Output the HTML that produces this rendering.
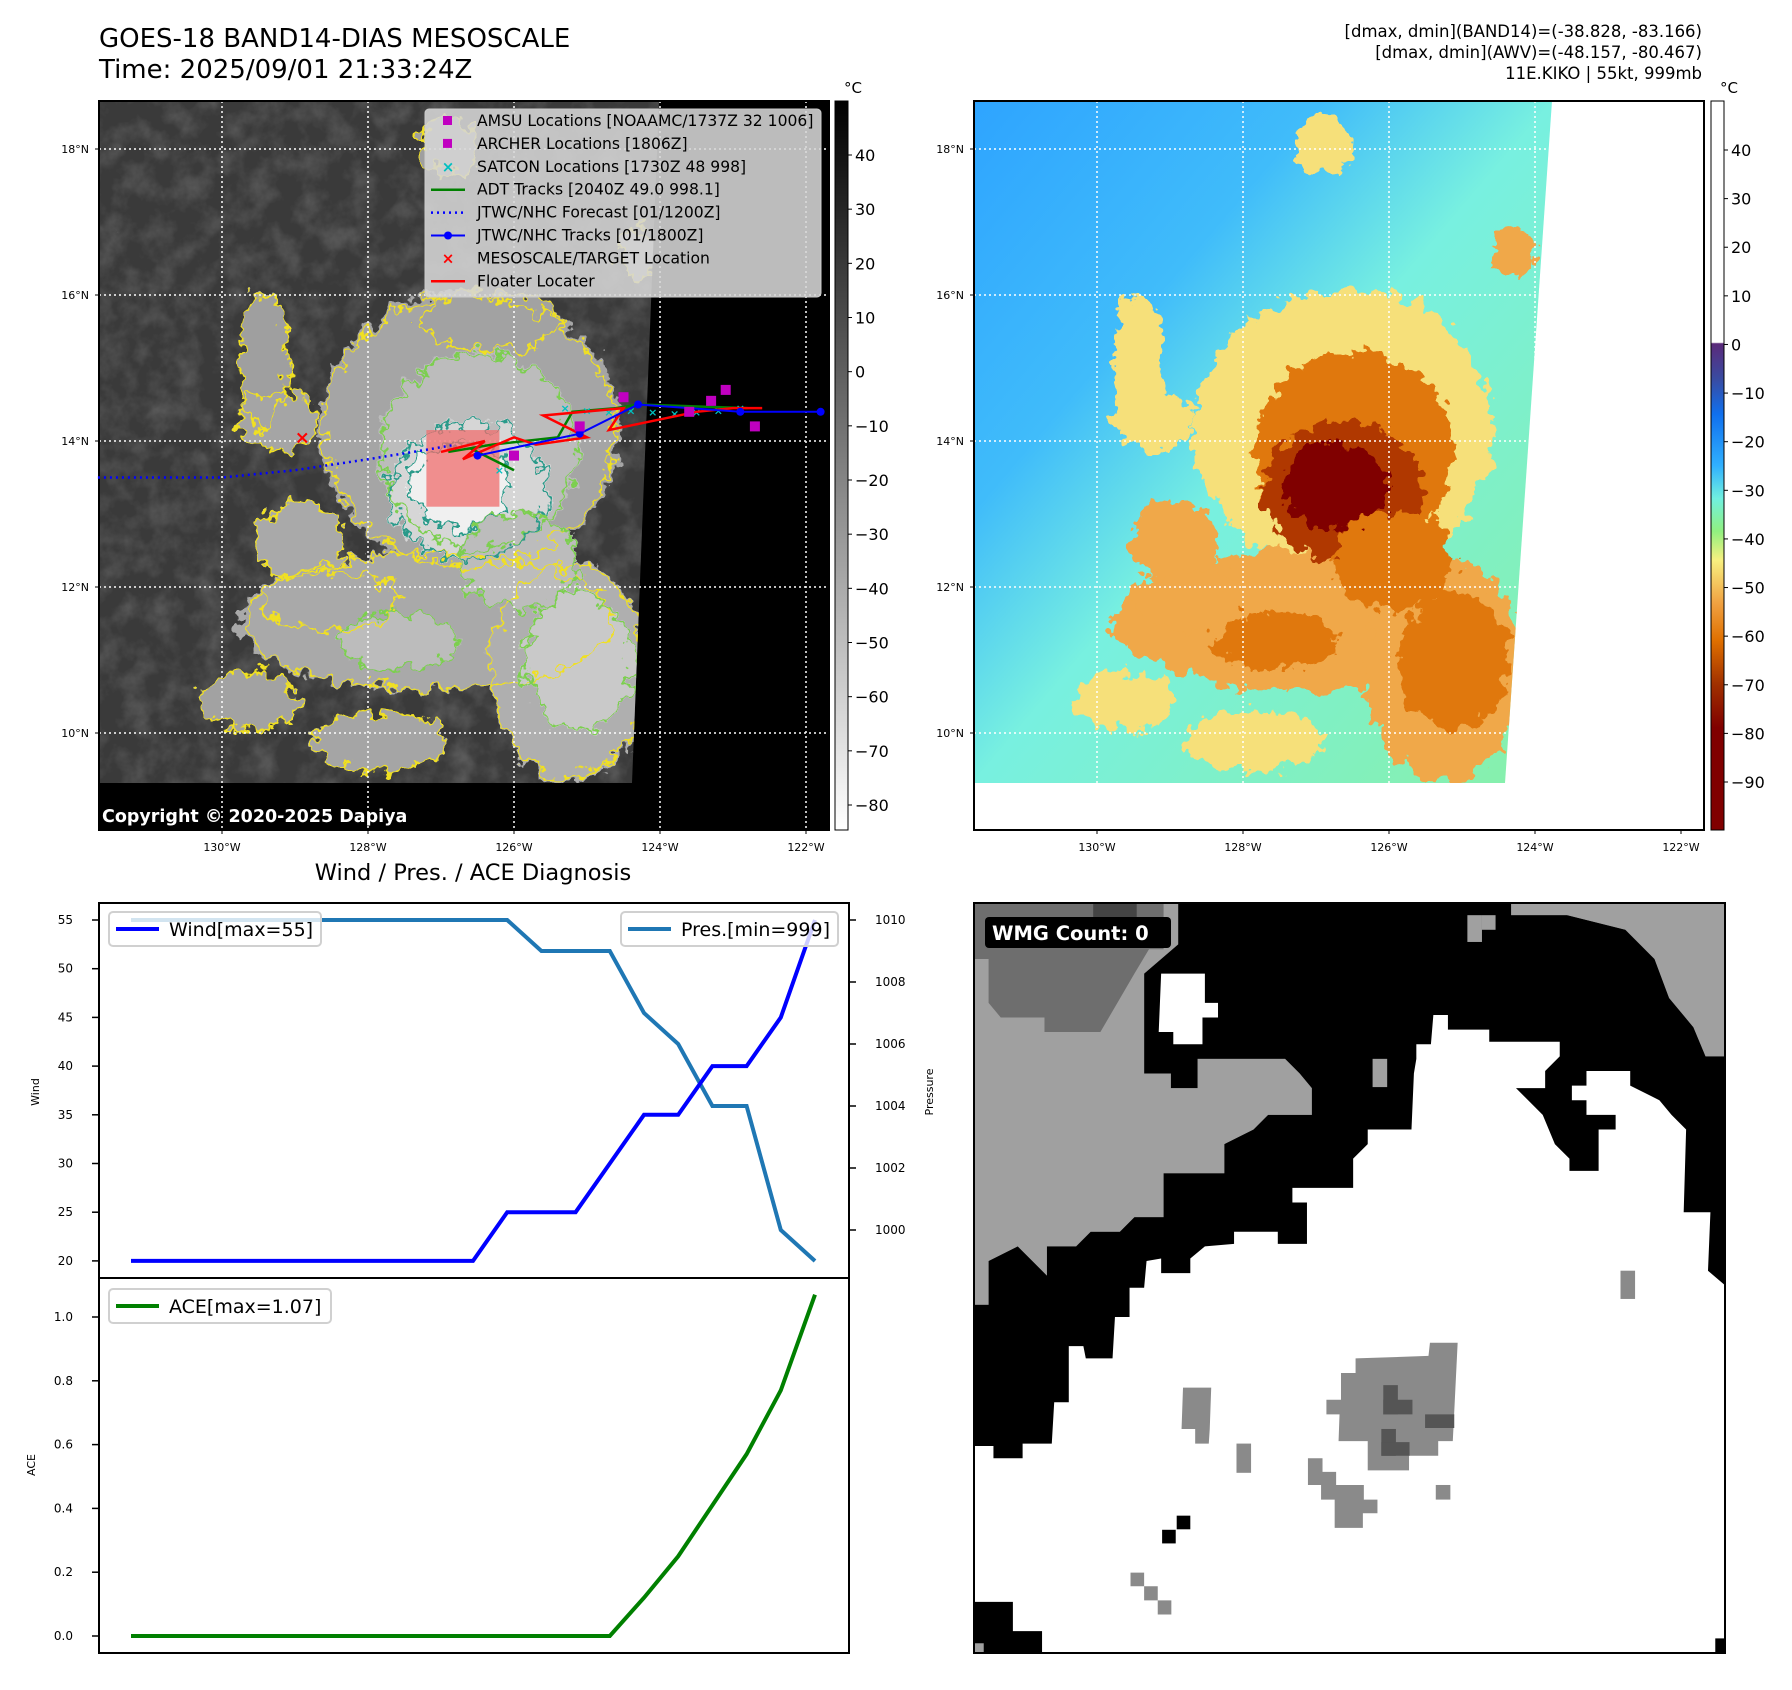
<!DOCTYPE html>
<html><head><meta charset="utf-8">
<style>
body{margin:0;background:#fff;width:1792px;height:1690px;position:relative;overflow:hidden;font-family:"DejaVu Sans","Liberation Sans",sans-serif;}
.t{position:absolute;white-space:nowrap;color:#000}
svg{position:absolute;left:0;top:0}
</style></head>
<body>
<div class="t" style="left:99px;top:24px;font-size:26px;line-height:31px">GOES-18 BAND14-DIAS MESOSCALE<br>Time: 2025/09/01 21:33:24Z</div>
<div class="t" style="right:90px;top:21px;font-size:16.5px;line-height:21px;text-align:right">[dmax, dmin](BAND14)=(-38.828, -83.166)<br>[dmax, dmin](AWV)=(-48.157, -80.467)<br>11E.KIKO | 55kt, 999mb</div>
<div class="t" style="left:473px;top:860px;font-size:22.5px;transform:translateX(-50%)">Wind / Pres. / ACE Diagnosis</div>

<svg id="main" width="1792" height="1690" viewBox="0 0 1792 1690">
<defs>
<filter id="rough" x="-10%" y="-10%" width="120%" height="120%">
<feTurbulence type="fractalNoise" baseFrequency="0.07" numOctaves="3" seed="4" result="n"/>
<feDisplacementMap in="SourceGraphic" in2="n" scale="30" xChannelSelector="R" yChannelSelector="G"/>
</filter>
<filter id="tex" x="0" y="0" width="100%" height="100%">
<feTurbulence type="fractalNoise" baseFrequency="0.04" numOctaves="4" seed="9"/>
<feColorMatrix type="matrix" values="0 0 0 0 1  0 0 0 0 1  0 0 0 0 1  0.9 0 0 0 -0.35"/>
</filter>
<linearGradient id="cbL" x1="0" y1="0" x2="0" y2="1"><stop offset="0" stop-color="#000"/><stop offset="1" stop-color="#fff"/></linearGradient>
<linearGradient id="cbR" x1="0" y1="0" x2="0" y2="1">
<stop offset="0" stop-color="#fff"/><stop offset="0.331" stop-color="#fff"/><stop offset="0.333" stop-color="#5b2a7a"/>
<stop offset="0.38" stop-color="#3a4aa0"/><stop offset="0.43" stop-color="#1070ee"/><stop offset="0.5" stop-color="#30b0ff"/>
<stop offset="0.545" stop-color="#70f0e0"/><stop offset="0.59" stop-color="#90f080"/><stop offset="0.63" stop-color="#f8f080"/>
<stop offset="0.69" stop-color="#f0a040"/><stop offset="0.74" stop-color="#e07000"/><stop offset="0.8" stop-color="#a03000"/>
<stop offset="0.86" stop-color="#800000"/><stop offset="1" stop-color="#800000"/></linearGradient>
<linearGradient id="skyR" x1="0" y1="0" x2="1" y2="1"><stop offset="0" stop-color="#2ea4ff"/><stop offset="0.3" stop-color="#40bcfa"/><stop offset="0.5" stop-color="#78f0e0"/><stop offset="1" stop-color="#88f0a8"/></linearGradient>
<clipPath id="clipL"><polygon points="99,101 659,101 632,783 99,783"/></clipPath>
<clipPath id="clipR"><polygon points="974,101 1552,101 1505,783 974,783"/></clipPath>
</defs>

<g>
<rect x="99" y="101" width="730" height="729" fill="#000"/>
<g clip-path="url(#clipL)">
<rect x="99" y="101" width="560" height="682" fill="#3a3a3a"/>
<rect x="99" y="101" width="560" height="682" filter="url(#tex)" opacity="0.35"/>
<g id="cloudsL" filter="url(#rough)"></g>
<g id="contoursL" filter="url(#rough)"></g>
</g>
<g id="gridL"></g>
<rect x="99" y="101" width="730" height="729" fill="none" stroke="#000" stroke-width="2"/>
</g>
<g id="overlayL"></g>
<rect x="425" y="109" width="396" height="188" rx="4" fill="rgba(214,214,214,0.88)" stroke="#ccc"/>
<g id="legendL"></g>
<text x="102" y="822" font-size="17.5" font-weight="bold" fill="#fff">Copyright © 2020-2025 Dapiya</text>
<rect x="835" y="101" width="13" height="729" fill="url(#cbL)" stroke="#000" stroke-width="1"/>
<text x="844" y="93" font-size="15">°C</text>
<g id="cbTicksL"></g>

<g>
<rect x="974" y="101" width="730" height="729" fill="#fff"/>
<g clip-path="url(#clipR)">
<rect x="974" y="101" width="580" height="682" fill="url(#skyR)"/>
<g id="cloudsR" filter="url(#rough)"></g>
</g>
<g id="gridR"></g>
<rect x="974" y="101" width="730" height="729" fill="none" stroke="#000" stroke-width="2"/>
</g>
<rect x="1711" y="101" width="13" height="729" fill="url(#cbR)" stroke="#000" stroke-width="1"/>
<text x="1720" y="93" font-size="15">°C</text>
<g id="cbTicksR"></g>

<g>
<svg x="974" y="903" width="751" height="750" viewBox="10 15 1545 1540" preserveAspectRatio="none">
<rect x="10" y="15" width="1545" height="1540" fill="#fff"/>
<polygon fill="#a0a0a0" points="10,15 430,15 430,100 395,130 360,160 360,365 415,365 415,395 470,395 470,335 650,335 680,365 705,395 705,450 615,450 585,480 525,510 525,570 400,570 400,660 340,660 310,690 250,690 220,720 160,720 160,780 190,750 160,780 100,720 40,750 40,840 10,840"/>
<polygon fill="#6e6e6e" points="10,15 255,15 255,45 345,45 345,15 400,15 400,110 370,110 340,160 305,220 270,280 155,280 155,250 65,250 40,220 40,130 10,130"/>
<rect x="255" y="15" width="90" height="30" fill="#444"/>
<polygon fill="#a0a0a0" points="1115,15 1555,15 1555,330 1515,330 1490,270 1440,210 1410,130 1350,70 1230,40 1115,40"/>
<polygon fill="#000" points="430,15 1115,15 1115,40 1230,40 1350,70 1380,100 1410,130 1440,210 1490,270 1515,330 1555,330 1555,800 1520,770 1525,650 1470,650 1475,480 1445,450 1420,420 1360,390 1360,360 1270,360 1270,390 1240,390 1240,420 1270,420 1270,450 1330,450 1330,480 1295,480 1295,565 1235,565 1235,540 1205,510 1180,450 1150,420 1125,395 1185,395 1185,360 1215,330 1215,300 1070,300 1070,275 985,275 985,245 955,245 950,305 920,305 920,335 915,365 910,480 820,480 820,510 790,540 790,600 665,600 665,630 695,630 695,715 635,715 635,690 545,690 545,715 485,720 455,745 455,775 395,775 395,745 365,750 360,805 330,805 330,865 300,865 295,950 240,950 235,925 205,925 205,1040 175,1040 170,1125 110,1125 110,1155 50,1155 50,1130 10,1130 10,840 40,840 40,750 100,720 160,780 160,720 220,720 250,690 310,690 340,660 400,660 400,570 525,570 525,510 585,480 615,450 705,450 705,395 680,365 650,335 470,335 470,395 415,395 415,365 360,365 360,160 395,130 430,100"/>
<polygon fill="#fff" points="395,160 485,160 485,220 512,220 512,250 480,250 480,305 420,305 420,280 390,280"/>
<rect x="830" y="335" width="30" height="58" fill="#a0a0a0"/>
<rect x="1025" y="40" width="30" height="55" fill="#a0a0a0"/>
<rect x="1055" y="40" width="28" height="30" fill="#a0a0a0"/>
<polygon fill="#000" points="10,1450 90,1450 90,1510 150,1510 150,1555 10,1555"/>
<rect x="1535" y="1525" width="20" height="30" fill="#000"/>
<polygon fill="#8a8a8a" points="765,980 795,980 795,950 945,945 948,918 1005,918 995,1120 965,1120 965,1150 905,1150 905,1180 820,1180 820,1120 760,1120 762,1065 735,1065 735,1035 765,1035"/>
<rect x="852" y="1005" width="30" height="60" fill="#555"/><rect x="852" y="1035" width="60" height="30" fill="#555"/>
<rect x="938" y="1065" width="60" height="28" fill="#555"/>
<rect x="848" y="1095" width="30" height="55" fill="#555"/><rect x="848" y="1122" width="58" height="28" fill="#555"/>
<polygon fill="#8a8a8a" points="440,1010 498,1010 495,1095 493,1125 465,1125 465,1095 437,1095"/>
<rect x="550" y="1125" width="30" height="60" fill="#8a8a8a"/>
<polygon fill="#8a8a8a" points="697,1155 727,1155 727,1183 755,1183 755,1210 812,1210 812,1240 840,1240 840,1268 810,1268 810,1298 752,1298 752,1240 724,1240 724,1210 697,1210"/>
<rect x="960" y="1210" width="30" height="30" fill="#8a8a8a"/>
<rect x="1340" y="770" width="30" height="58" fill="#8a8a8a"/>
<polygon fill="#8a8a8a" points="332,1390 360,1390 360,1418 388,1418 388,1447 416,1447 416,1476 388,1476 388,1447 360,1447 360,1418 332,1418"/>
<rect x="427" y="1273" width="28" height="28" fill="#000"/><rect x="397" y="1302" width="28" height="28" fill="#000"/>
<rect x="12" y="1535" width="18" height="18" fill="#a0a0a0"/>
</svg>
<rect x="974" y="903" width="751" height="750" fill="none" stroke="#000" stroke-width="2"/>
<rect x="985" y="917" width="186" height="31" rx="4" fill="#000"/>
<text x="992" y="940" font-size="19.5" font-weight="bold" fill="#fff">WMG Count: 0</text>
</g>

<g id="windChart">
<rect x="99" y="903" width="750" height="375" fill="#fff" stroke="#000" stroke-width="2"/>
</g>
<g id="aceChart">
<rect x="99" y="1278" width="750" height="375" fill="#fff" stroke="#000" stroke-width="2"/>
</g>
</svg>

<script>
// ---- chart data ----
const windValues = [20,20,20,20,20,20,20,20,20,20,20,25,25,25,30,35,35,40,40,45,55];
const presValues = [1010,1010,1010,1010,1010,1010,1010,1010,1010,1010,1010,1010,1009,1009,1009,1007,1006,1004,1004,1000,999];
const aceValues = [0,0,0,0,0,0,0,0,0,0,0,0,0,0,0,0.12,0.25,0.41,0.57,0.77,1.07];
const windTicks = [20,25,30,35,40,45,50,55];
const presTicks = [1000,1002,1004,1006,1008,1010];
const aceTicks = [0.0,0.2,0.4,0.6,0.8,1.0];
// ---- map data ----
const latTicks = [10,12,14,16,18];
const lonTicks = [130,128,126,124,122];
const cbLeftTicks = [40,30,20,10,0,-10,-20,-30,-40,-50,-60,-70,-80];
const cbRightTicks = [40,30,20,10,0,-10,-20,-30,-40,-50,-60,-70,-80,-90];
const jtwcLon = [126.5,125.1,124.3,122.9,121.8];
const jtwcLat = [13.8,14.1,14.5,14.4,14.4];
const fcstLon = [131.7,130.0,129.0,128.0,127.2,126.8];
const fcstLat = [13.5,13.5,13.6,13.75,13.88,13.95];
const floaterLon = [127.0,126.4,126.7,126.0,125.7,125.0,125.6,124.5,124.7,123.5,123.0,122.6];
const floaterLat = [13.85,14.0,13.75,14.05,13.95,14.05,14.35,14.45,14.15,14.4,14.45,14.45];
const adtLon = [126.9,126.3,125.4,125.2,124.6,124.3,122.8];
const adtLat = [13.85,13.95,14.05,14.4,14.45,14.5,14.45];
const amsuLon = [124.5,123.3,123.1,122.7,125.1,126.0,123.6];
const amsuLat = [14.6,14.55,14.7,14.2,14.2,13.8,14.4];
const satconLon = [125.3,125.0,124.7,124.4,124.1,123.8,123.5,123.2,122.9,126.2];
const satconLat = [14.45,14.42,14.4,14.42,14.4,14.38,14.4,14.42,14.45,13.6];

const NS='http://www.w3.org/2000/svg';
function mk(parent,tag,attrs,text){const e=document.createElementNS(NS,tag);for(const k in attrs)e.setAttribute(k,attrs[k]);if(text!==undefined)e.textContent=text;parent.appendChild(e);return e;}
const $=id=>document.getElementById(id);

function lonX(lon,off){return 222+off+(130-lon)*73;}
function latY(lat){return 441-(lat-14)*73;}

[['gridL',0,99,829],['gridR',875,974,1704]].forEach(([gid,off,x0,x1])=>{
  const g=$(gid);
  latTicks.forEach(v=>{
    const y=latY(v);
    const l=mk(g,'line',{x1:x0,x2:x1,y1:y,y2:y,stroke:'#fff','stroke-width':1.5,'stroke-dasharray':'2,3'});
    
    
    mk(g,'line',{x1:x0-4,x2:x0,y1:y,y2:y,stroke:'#000'});
    const t=mk(g,'text',{x:x0-10,y:y+4,'font-size':11,'text-anchor':'end'},v+'°N');
    
    
  });
  lonTicks.forEach(v=>{
    const x=lonX(v,off);
    const l=mk(g,'line',{x1:x,x2:x,y1:101,y2:830,stroke:'#fff','stroke-width':1.5,'stroke-dasharray':'2,3'});
    
    
    mk(g,'line',{x1:x,x2:x,y1:830,y2:834,stroke:'#000'});
    const t=mk(g,'text',{x:x,y:851,'font-size':11,'text-anchor':'middle'},v+'°W');
    
    
  });
});

const blobs=[ // rel x, rel y, rx, ry, level
 [370,330,150,140,0.42],[330,520,190,70,0.45],[470,570,80,110,0.5],[390,220,70,30,0.4],
 [165,260,25,70,0.38],[180,320,40,30,0.42],[200,440,45,40,0.45],[230,500,70,30,0.45],
 [150,600,50,30,0.4],[540,150,22,25,0.45],[350,45,30,30,0.38],[280,640,70,30,0.42],
 [380,350,100,100,0.6],[480,560,55,70,0.7],[370,390,80,70,0.8],[361,385,52,45,1.0],
 [420,460,60,50,0.6],[300,540,60,30,0.6]
];
function greyFor(l){const v=Math.round(110+l*130);return `rgb(${v},${v},${v})`;}
function colFor(l){if(l>0.95)return '#800000';if(l>0.75)return '#b03800';if(l>0.58)return '#e07810';if(l>0.43)return '#f0a848';return '#f6e07a';}
blobs.forEach(b=>{
  const e1=mk($('cloudsL'),'ellipse',{cx:99+b[0],cy:101+b[1],rx:b[2],ry:b[3],fill:greyFor(b[4])});
  
  
  const e2=mk($('cloudsR'),'ellipse',{cx:974+b[0],cy:101+b[1],rx:b[2],ry:b[3],fill:colFor(b[4])});
  
  
  const s=['#f0e020','#7ccf50','#2a9a8a'];
  const c=mk($('contoursL'),'ellipse',{cx:99+b[0],cy:101+b[1],rx:b[2]*0.97,ry:b[3]*0.97,fill:'none',stroke:b[4]>0.7?s[2]:(b[4]>0.5?s[1]:s[0]),'stroke-width':2.2});
  
  
});

const ov=$('overlayL');
const mr=mk(ov,'rect',{x:lonX(127.2,0),y:latY(14.15),width:73*1.0,height:73*1.05,fill:'rgba(240,110,110,0.75)'});


function pl(lons,lats){return lons.map((v,i)=>lonX(v,0)+','+latY(lats[i])).join(' ');}
let p=mk(ov,'polyline',{points:pl(fcstLon,fcstLat),fill:'none',stroke:'#0000ff','stroke-width':2.5,'stroke-dasharray':'2,4'});


p=mk(ov,'polyline',{points:pl(adtLon,adtLat),fill:'none',stroke:'#008000','stroke-width':2.5});


mk(ov,'line',{x1:lonX(126.6,0),y1:latY(13.9),x2:lonX(126.0,0),y2:latY(13.6),stroke:'#008000','stroke-width':2.5});
satconLon.forEach((v,i)=>{const t=mk(ov,'text',{x:lonX(v,0),y:latY(satconLat[i])+4,'font-size':11,'font-weight':'bold',fill:'#00c0c0','text-anchor':'middle'},'×');
 
 });
p=mk(ov,'polyline',{points:pl(floaterLon,floaterLat),fill:'none',stroke:'#ff0000','stroke-width':2.5});


p=mk(ov,'polyline',{points:pl(jtwcLon,jtwcLat),fill:'none',stroke:'#0000ff','stroke-width':2});


jtwcLon.forEach((v,i)=>{const c=mk(ov,'circle',{cx:lonX(v,0),cy:latY(jtwcLat[i]),r:4,fill:'#0000ff'});
 
 });
amsuLon.forEach((v,i)=>{const r=mk(ov,'rect',{x:lonX(v,0)-5,y:latY(amsuLat[i])-5,width:10,height:10,fill:'#c000c0'});
 
 });
const rx=mk(ov,'text',{x:lonX(128.9,0),y:latY(14.05)+6,'font-size':18,'font-weight':'bold',fill:'#ff0000','text-anchor':'middle'},'×');



const legItems=[['sq','#c000c0','AMSU Locations [NOAAMC/1737Z 32 1006]'],['sq','#c000c0','ARCHER Locations [1806Z]'],['x','#00c0c0','SATCON Locations [1730Z 48 998]'],['line','#008000','ADT Tracks [2040Z 49.0 998.1]'],['dot','#0000ff','JTWC/NHC Forecast [01/1200Z]'],['ld','#0000ff','JTWC/NHC Tracks [01/1800Z]'],['x','#ff0000','MESOSCALE/TARGET Location'],['line','#ff0000','Floater Locater']];
legItems.forEach((it,i)=>{
  const y=121+i*22.9, g=$('legendL');
  if(it[0]==='sq')mk(g,'rect',{x:443,y:y-5,width:9,height:9,fill:it[1]});
  if(it[0]==='x')mk(g,'text',{x:448,y:y+5,'font-size':15,'font-weight':'bold',fill:it[1],'text-anchor':'middle'},'×');
  if(it[0]==='line')mk(g,'line',{x1:431,x2:465,y1:y,y2:y,stroke:it[1],'stroke-width':2.5});
  if(it[0]==='dot')mk(g,'line',{x1:431,x2:465,y1:y,y2:y,stroke:it[1],'stroke-width':2.5,'stroke-dasharray':'2,4'});
  if(it[0]==='ld'){mk(g,'line',{x1:431,x2:465,y1:y,y2:y,stroke:it[1],'stroke-width':2});mk(g,'circle',{cx:448,cy:y,r:4,fill:it[1]});}
  const t=mk(g,'text',{x:477,y:y+5,'font-size':15.6},it[2]);
  
  
});

cbLeftTicks.forEach(v=>{const y=155+(40-v)*(650/120);
  mk($('cbTicksL'),'line',{x1:848,x2:852,y1:y,y2:y,stroke:'#000'});
  const t=mk($('cbTicksL'),'text',{x:855,y:y+6,'font-size':16},String(v).replace('-','−'));
  
  });
cbRightTicks.forEach(v=>{const y=150+(40-v)*(632/130);
  mk($('cbTicksR'),'line',{x1:1724,x2:1728,y1:y,y2:y,stroke:'#000'});
  const t=mk($('cbTicksR'),'text',{x:1731,y:y+6,'font-size':16},String(v).replace('-','−'));
  
  });

const xIdx=i=>131+i*34.2;
const windY=v=>920+(55-v)*9.74;
const presY=v=>920+(1010-v)*31;
const aceY=v=>1636-v*319;
const wc=$('windChart'), ac=$('aceChart');
windTicks.forEach(v=>{const y=windY(v);mk(wc,'line',{x1:92,x2:99,y1:y,y2:y,stroke:'#000','stroke-width':1.5});
  const t=mk(wc,'text',{x:73,y:y+4,'font-size':12,'text-anchor':'end'},v);
  
  });
presTicks.forEach(v=>{const y=presY(v);mk(wc,'line',{x1:849,x2:856,y1:y,y2:y,stroke:'#000','stroke-width':1.5});
  const t=mk(wc,'text',{x:875,y:y+4,'font-size':12},v);
  
  });
aceTicks.forEach(v=>{const y=aceY(v);mk(ac,'line',{x1:92,x2:99,y1:y,y2:y,stroke:'#000','stroke-width':1.5});
  const t=mk(ac,'text',{x:73,y:y+4,'font-size':12,'text-anchor':'end'},v.toFixed(1));
  
  });
let t=mk(wc,'text',{x:0,y:0,'font-size':11,transform:'translate(39,1092) rotate(-90)','text-anchor':'middle'},'Wind');

t=mk(wc,'text',{x:0,y:0,'font-size':11,transform:'translate(933,1092) rotate(-90)','text-anchor':'middle'},'Pressure');

t=mk(ac,'text',{x:0,y:0,'font-size':11,transform:'translate(35,1465) rotate(-90)','text-anchor':'middle'},'ACE');


let ln=mk(wc,'polyline',{points:presValues.map((v,i)=>xIdx(i)+','+presY(v)).join(' '),fill:'none',stroke:'#1f77b4','stroke-width':4});

ln=mk(wc,'polyline',{points:windValues.map((v,i)=>xIdx(i)+','+windY(v)).join(' '),fill:'none',stroke:'#0000ff','stroke-width':4});

ln=mk(ac,'polyline',{points:aceValues.map((v,i)=>xIdx(i)+','+aceY(v)).join(' '),fill:'none',stroke:'#008000','stroke-width':4});


function legend(g,x,y,w,color,label,name){
  const r=mk(g,'rect',{x:x,y:y,width:w,height:34,rx:4,fill:'rgba(255,255,255,0.8)',stroke:'#d0d0d0','stroke-width':2});
  
  
  mk(g,'line',{x1:x+7,x2:x+50,y1:y+17,y2:y+17,stroke:color,'stroke-width':4});
  mk(g,'text',{x:x+60,y:y+24,'font-size':19},label);
}
legend(wc,109,912,212,'#0000ff','Wind[max=55]','wind-legend');
legend(wc,621,912,217,'#1f77b4','Pres.[min=999]','pressure-legend');
legend(ac,109,1289,222,'#008000','ACE[max=1.07]','ace-legend');
</script>
</body></html>
